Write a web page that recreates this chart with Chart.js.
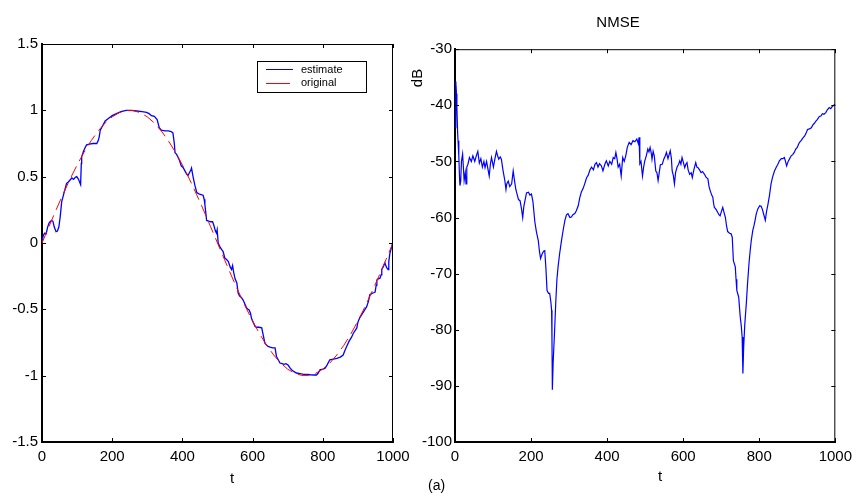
<!DOCTYPE html>
<html>
<head>
<meta charset="utf-8">
<script src="https://cdn.jsdelivr.net/npm/chart.js@4.4.0/dist/chart.umd.min.js"></script>
<style>
  body { margin: 0; background: #fff; width: 858px; height: 496px; position: relative; overflow: hidden; font-family: "Liberation Sans", Arial, sans-serif; }
  canvas { position: absolute; top: 0; }
  #left { left: 0; }
  #right { left: 400px; }
  #cap { position: absolute; left: 428px; top: 477px; font-size: 14px; color: #000; }
</style>
</head>
<body>
<canvas id="left" width="420" height="496"></canvas>
<canvas id="right" width="458" height="496"></canvas>
<div id="cap">(a)</div>
<script>
// ticks
const xTicks = [0, 200, 400, 600, 800, 1000];
const yTicksLeft = [-1.5, -1, -0.5, 0, 0.5, 1, 1.5];
const yTicksRight = [-100, -90, -80, -70, -60, -50, -40, -30];

// left plot: estimate (blue) vs original (red dashed)
const tEst = [0, 4, 8, 12, 16, 20, 23, 27, 31, 35, 40, 44, 48, 52, 56, 60, 65, 70, 75, 80, 85, 90, 95, 99, 104, 110, 112, 113, 118, 123, 127, 135, 145, 156, 160, 163, 166, 172, 180, 190, 200, 212, 225, 240, 255, 270, 285, 298, 305, 312, 320, 328, 334, 340, 350, 360, 368, 373, 377, 379, 383, 387, 392, 397, 402, 408, 412, 416, 420, 424, 426, 429, 431, 436, 441, 447, 453, 459, 462, 464, 467, 469, 475, 481, 486, 490, 494, 497, 499, 502, 507, 512, 516, 521, 526, 531, 536, 540, 543, 546, 550, 555, 559, 563, 568, 573, 578, 583, 587, 590, 594, 597, 602, 607, 612, 618, 626, 630, 635, 640, 644, 650, 657, 664, 668, 673, 678, 684, 690, 695, 701, 706, 711, 718, 725, 735, 745, 754, 765, 775, 782, 787, 792, 800, 806, 812, 820, 830, 840, 850, 858, 863, 868, 875, 882, 887, 892, 897, 899, 901, 906, 911, 918, 925, 930, 934, 940, 945, 949, 952, 954, 958, 963, 966, 968, 972, 977, 981, 983, 986, 988, 991, 995, 999];
const vEst = [0.01, 0.06, 0.075, 0.07, 0.12, 0.15, 0.16, 0.17, 0.165, 0.12, 0.085, 0.09, 0.12, 0.2, 0.31, 0.35, 0.40, 0.45, 0.46, 0.475, 0.49, 0.48, 0.495, 0.50, 0.48, 0.44, 0.6, 0.65, 0.69, 0.72, 0.74, 0.745, 0.75, 0.75, 0.77, 0.80, 0.85, 0.88, 0.92, 0.94, 0.96, 0.975, 0.99, 1.0, 1.0, 0.995, 0.99, 0.985, 0.975, 0.96, 0.955, 0.93, 0.87, 0.85, 0.845, 0.845, 0.84, 0.83, 0.75, 0.68, 0.67, 0.65, 0.62, 0.58, 0.57, 0.54, 0.52, 0.51, 0.53, 0.55, 0.565, 0.52, 0.49, 0.43, 0.38, 0.37, 0.365, 0.36, 0.33, 0.29, 0.22, 0.17, 0.165, 0.16, 0.16, 0.13, 0.09, 0.075, 0.1, 0.0, -0.03, -0.05, -0.065, -0.115, -0.125, -0.14, -0.18, -0.20, -0.17, -0.22, -0.27, -0.30, -0.38, -0.40, -0.41, -0.43, -0.46, -0.49, -0.50, -0.505, -0.53, -0.57, -0.60, -0.63, -0.635, -0.635, -0.64, -0.69, -0.755, -0.77, -0.78, -0.785, -0.79, -0.79, -0.855, -0.88, -0.905, -0.91, -0.915, -0.91, -0.92, -0.94, -0.955, -0.97, -0.98, -0.985, -0.99, -0.99, -0.993, -0.995, -0.995, -0.98, -0.955, -0.95, -0.945, -0.92, -0.88, -0.875, -0.87, -0.86, -0.845, -0.81, -0.78, -0.74, -0.71, -0.68, -0.66, -0.64, -0.61, -0.59, -0.56, -0.54, -0.51, -0.48, -0.44, -0.39, -0.38, -0.375, -0.37, -0.32, -0.28, -0.27, -0.265, -0.24, -0.20, -0.18, -0.15, -0.18, -0.19, -0.20, -0.14, -0.08, -0.04, 0.0];

const tOrig = [0, 20, 40, 60, 80, 100, 120, 140, 160, 180, 200, 220, 240, 260, 280, 300, 320, 340, 360, 380, 400, 420, 440, 460, 480, 500, 520, 540, 560, 580, 600, 620, 640, 660, 680, 700, 720, 740, 760, 780, 800, 820, 840, 860, 880, 900, 920, 940, 960, 980, 1000];
const vOrig = [0, 0.125, 0.249, 0.368, 0.482, 0.588, 0.685, 0.771, 0.844, 0.905, 0.951, 0.982, 0.998, 0.998, 0.982, 0.951, 0.905, 0.844, 0.771, 0.685, 0.588, 0.482, 0.368, 0.249, 0.125, 0, -0.125, -0.249, -0.368, -0.482, -0.588, -0.685, -0.771, -0.844, -0.905, -0.951, -0.982, -0.998, -0.998, -0.982, -0.951, -0.905, -0.844, -0.771, -0.685, -0.588, -0.482, -0.368, -0.249, -0.125, 0];

// right plot: NMSE in dB
const tNmse = [0, 2, 4, 5, 7, 8, 10, 12, 13, 15, 17, 20, 22, 24, 27, 29, 31, 34, 38, 43, 47, 52, 56, 60, 64, 68, 72, 76, 79, 83, 87, 90, 93, 96, 101, 105, 109, 112, 115, 119, 122, 126, 131, 134, 136, 140, 144, 149, 153, 157, 160, 163, 167, 171, 175, 178, 181, 184, 188, 193, 197, 201, 205, 210, 214, 219, 222, 225, 229, 233, 236, 239, 242, 246, 249, 252, 254, 255, 256, 258, 262, 265, 268, 271, 275, 280, 285, 289, 293, 297, 302, 306, 310, 315, 319, 324, 328, 332, 337, 341, 346, 350, 355, 359, 364, 368, 372, 376, 380, 385, 389, 394, 398, 403, 407, 412, 416, 420, 423, 426, 429, 433, 437, 441, 445, 449, 453, 458, 463, 468, 473, 478, 482, 484, 486, 489, 493, 496, 499, 503, 507, 510, 513, 516, 518, 521, 524, 528, 531, 534, 537, 540, 545, 549, 553, 556, 560, 563, 566, 569, 571, 574, 577, 580, 584, 588, 591, 594, 597, 601, 604, 607, 610, 613, 617, 621, 624, 628, 633, 636, 639, 643, 647, 651, 656, 660, 665, 668, 671, 675, 678, 680, 682, 686, 691, 694, 697, 701, 704, 707, 711, 714, 717, 722, 726, 729, 732, 737, 739, 741, 746, 748, 750, 753, 755, 757, 759, 762, 766, 769, 773, 776, 779, 783, 786, 789, 792, 796, 801, 805, 808, 812, 816, 819, 823, 827, 831, 835, 840, 845, 849, 853, 858, 862, 866, 869, 872, 876, 880, 884, 888, 892, 896, 900, 903, 906, 910, 915, 919, 923, 927, 932, 937, 941, 945, 949, 953, 958, 962, 966, 970, 975, 979, 984, 988, 992, 996, 1000];
const vNmse = [-44, -35.7, -38, -40.5, -45, -46.3, -49, -53, -54.3, -53.5, -50, -48.7, -51, -53.4, -52, -54, -51, -50.5, -49.3, -50, -49, -50, -49, -48.2, -50.3, -49.5, -51, -50, -51.1, -50, -51.5, -52.6, -50.5, -49.3, -51, -49.5, -48.2, -49, -49.6, -49.2, -49.6, -51.5, -53.4, -55, -54, -53.5, -54.5, -54, -51.7, -53.7, -55, -55.8, -56.8, -57, -58.5, -60, -58, -57, -55.6, -55.5, -56, -55.8, -57.2, -60.8, -62.5, -64.1, -66, -67.3, -66.5, -66, -65.9, -69, -73, -73.5, -73.5, -75, -76.5, -82, -90.7, -86, -80, -75, -71, -68.8, -66.5, -64.1, -62, -60.5, -59.5, -59.3, -60, -59.9, -59.5, -59.3, -58.8, -57.9, -56.5, -55.5, -54.8, -54, -52.9, -52.5, -51.5, -51, -51.5, -50.5, -50.2, -51, -50.4, -50.8, -51.7, -50.5, -49.9, -50.8, -50, -50.5, -49.3, -49.5, -48.4, -49.5, -51, -50.5, -52.6, -49.3, -50, -49, -47.5, -46.6, -47, -46.3, -46.5, -46, -46.8, -45.7, -50.4, -50, -52.6, -51, -49.9, -49, -47.8, -48.3, -47.5, -48.5, -49.6, -48.2, -49, -51.7, -52, -53.4, -52, -50.6, -50.5, -49.6, -49, -48.4, -49.5, -48.8, -48.1, -49.5, -51.7, -52.5, -54, -52, -51, -50.5, -49.9, -50.5, -49.3, -50.3, -51.1, -50.5, -50.2, -51.5, -52.3, -52, -52.9, -51.5, -50.2, -51, -51.1, -51.5, -52, -51.8, -52.3, -52.8, -53.1, -54.5, -55.2, -56, -56.4, -57.5, -58.2, -58.5, -59.1, -59.5, -59.7, -58.8, -58.2, -59, -60, -61.5, -62.5, -62.8, -62.9, -63.5, -67.7, -68.8, -71, -73, -74.2, -76, -77.7, -79.5, -81.3, -87.8, -83.1, -79, -75.3, -72, -68.2, -66, -64.1, -62.3, -61.5, -60.5, -59.4, -58.5, -57.9, -58, -58.5, -59.5, -60.5, -59, -57.6, -56, -54, -52.8, -51.7, -51, -50.5, -49.9, -49.5, -49.5, -49.3, -50, -50.8, -50, -49.5, -49, -48.8, -48.4, -47.8, -47.5, -47, -46.6, -46.3, -45.8, -45.5, -45, -44.3, -44.2, -44, -43.5, -43.2, -42.8, -42.5, -42, -41.9, -41.5, -41.6, -41.3, -40.8, -40.4, -40.6, -40.2, -40, -39.8];

const FONT = 'Liberation Sans, Arial, sans-serif';
Chart.defaults.font.family = FONT;
Chart.defaults.font.size = 15;
Chart.defaults.color = '#000';
Chart.defaults.animation = false;

function pts(xs, ys) {
    return xs.map((x, i) => ({x: x, y: ys[i]}));
}

// box on top/right + inward tick marks on all sides, plus loose texts
const framePlugin = {
    id: 'frame',
    afterDraw(chart, args, opts) {
        const ctx = chart.ctx;
        const a = chart.chartArea;
        const sx = chart.scales.x, sy = chart.scales.y;
        ctx.save();
        ctx.strokeStyle = '#000';
        ctx.lineWidth = 1;
        ctx.beginPath();
        ctx.moveTo(a.left, a.top + 0.5); ctx.lineTo(a.right, a.top + 0.5);
        ctx.moveTo(a.right - 0.5, a.top); ctx.lineTo(a.right - 0.5, a.bottom);
        opts.xTicks.forEach(v => {
            const p = Math.round(sx.getPixelForValue(v)) + 0.5;
            ctx.moveTo(p, a.bottom); ctx.lineTo(p, a.bottom - 4);
            ctx.moveTo(p, a.top); ctx.lineTo(p, a.top + 4);
        });
        opts.yTicks.forEach(v => {
            const p = Math.round(sy.getPixelForValue(v)) + 0.5;
            ctx.moveTo(a.left, p); ctx.lineTo(a.left + 4, p);
            ctx.moveTo(a.right, p); ctx.lineTo(a.right - 4, p);
        });
        ctx.stroke();

        ctx.fillStyle = '#000';
        ctx.font = '15px ' + FONT;
        ctx.textAlign = 'center';
        ctx.textBaseline = 'middle';
        ctx.fillText('t', opts.xlabel[0], opts.xlabel[1]);
        if (opts.ylabel) {
            ctx.save();
            ctx.translate(opts.ylabel[0], opts.ylabel[1]);
            ctx.rotate(-Math.PI / 2);
            ctx.fillText('dB', 0, 0);
            ctx.restore();
        }
        if (opts.legend) {
            ctx.lineWidth = 1;
            ctx.strokeRect(257.5, 61.5, 109, 31);
            ctx.strokeStyle = '#0000ff';
            ctx.beginPath(); ctx.moveTo(266, 69.5); ctx.lineTo(293, 69.5); ctx.stroke();
            ctx.strokeStyle = '#ff0000';
            ctx.beginPath(); ctx.moveTo(266, 83.5); ctx.lineTo(290, 83.5); ctx.stroke();
            ctx.font = '11px ' + FONT;
            ctx.textAlign = 'left';
            ctx.fillText('estimate', 301, 70);
            ctx.fillText('original', 301, 83);
        }
        ctx.restore();
    }
};

function axis(ticks, fixW, fixH, pad) {
    return {
        type: 'linear',
        min: ticks[0],
        max: ticks[ticks.length - 1],
        grid: {display: false, drawTicks: false},
        border: {display: true, color: '#000', width: 2},
        afterBuildTicks: s => { s.ticks = ticks.map(v => ({value: v})); },
        afterFit: s => { if (fixW) s.width = fixW; if (fixH) s.height = fixH; },
        ticks: {padding: pad, autoSkip: false, maxRotation: 0, callback: v => String(v)}
    };
}

new Chart(document.getElementById('left'), {
    type: 'line',
    data: {
        datasets: [{
            label: 'estimate',
            data: pts(tEst, vEst),
            borderColor: '#0000ff',
            borderWidth: 1.3,
            pointRadius: 0,
            order: 1
        }, {
            label: 'original',
            data: pts(tOrig, vOrig),
            borderColor: '#ff0000',
            borderWidth: 1,
            borderDash: [12, 6],
            pointRadius: 0,
            order: 0
        }]
    },
    options: {
        responsive: false,
        layout: {padding: {top: 44, right: 27, left: 0, bottom: 0}},
        scales: {
            x: axis(xTicks, 0, 54, 6),
            y: axis(yTicksLeft, 42, 0, 4)
        },
        plugins: {
            legend: {display: false},
            tooltip: {enabled: false},
            frame: {xTicks: xTicks, yTicks: yTicksLeft, xlabel: [232, 479], legend: true}
        }
    },
    plugins: [framePlugin]
});

new Chart(document.getElementById('right'), {
    type: 'line',
    data: {
        datasets: [{
            label: 'NMSE',
            data: pts(tNmse, vNmse),
            borderColor: '#0000ff',
            borderWidth: 1.2,
            pointRadius: 0
        }]
    },
    options: {
        responsive: false,
        layout: {padding: {top: 0, right: 22, left: 0, bottom: 0}},
        scales: {
            x: axis(xTicks, 0, 54, 6),
            y: axis(yTicksRight, 55, 0, 3)
        },
        plugins: {
            legend: {display: false},
            tooltip: {enabled: false},
            title: {display: true, text: 'NMSE', font: {size: 15, weight: 'normal'}, padding: {top: 14, bottom: 17.2}},
            frame: {xTicks: xTicks, yTicks: yTicksRight, xlabel: [260, 477], ylabel: [18, 78]}
        }
    },
    plugins: [framePlugin]
});
</script>
</body>
</html>
